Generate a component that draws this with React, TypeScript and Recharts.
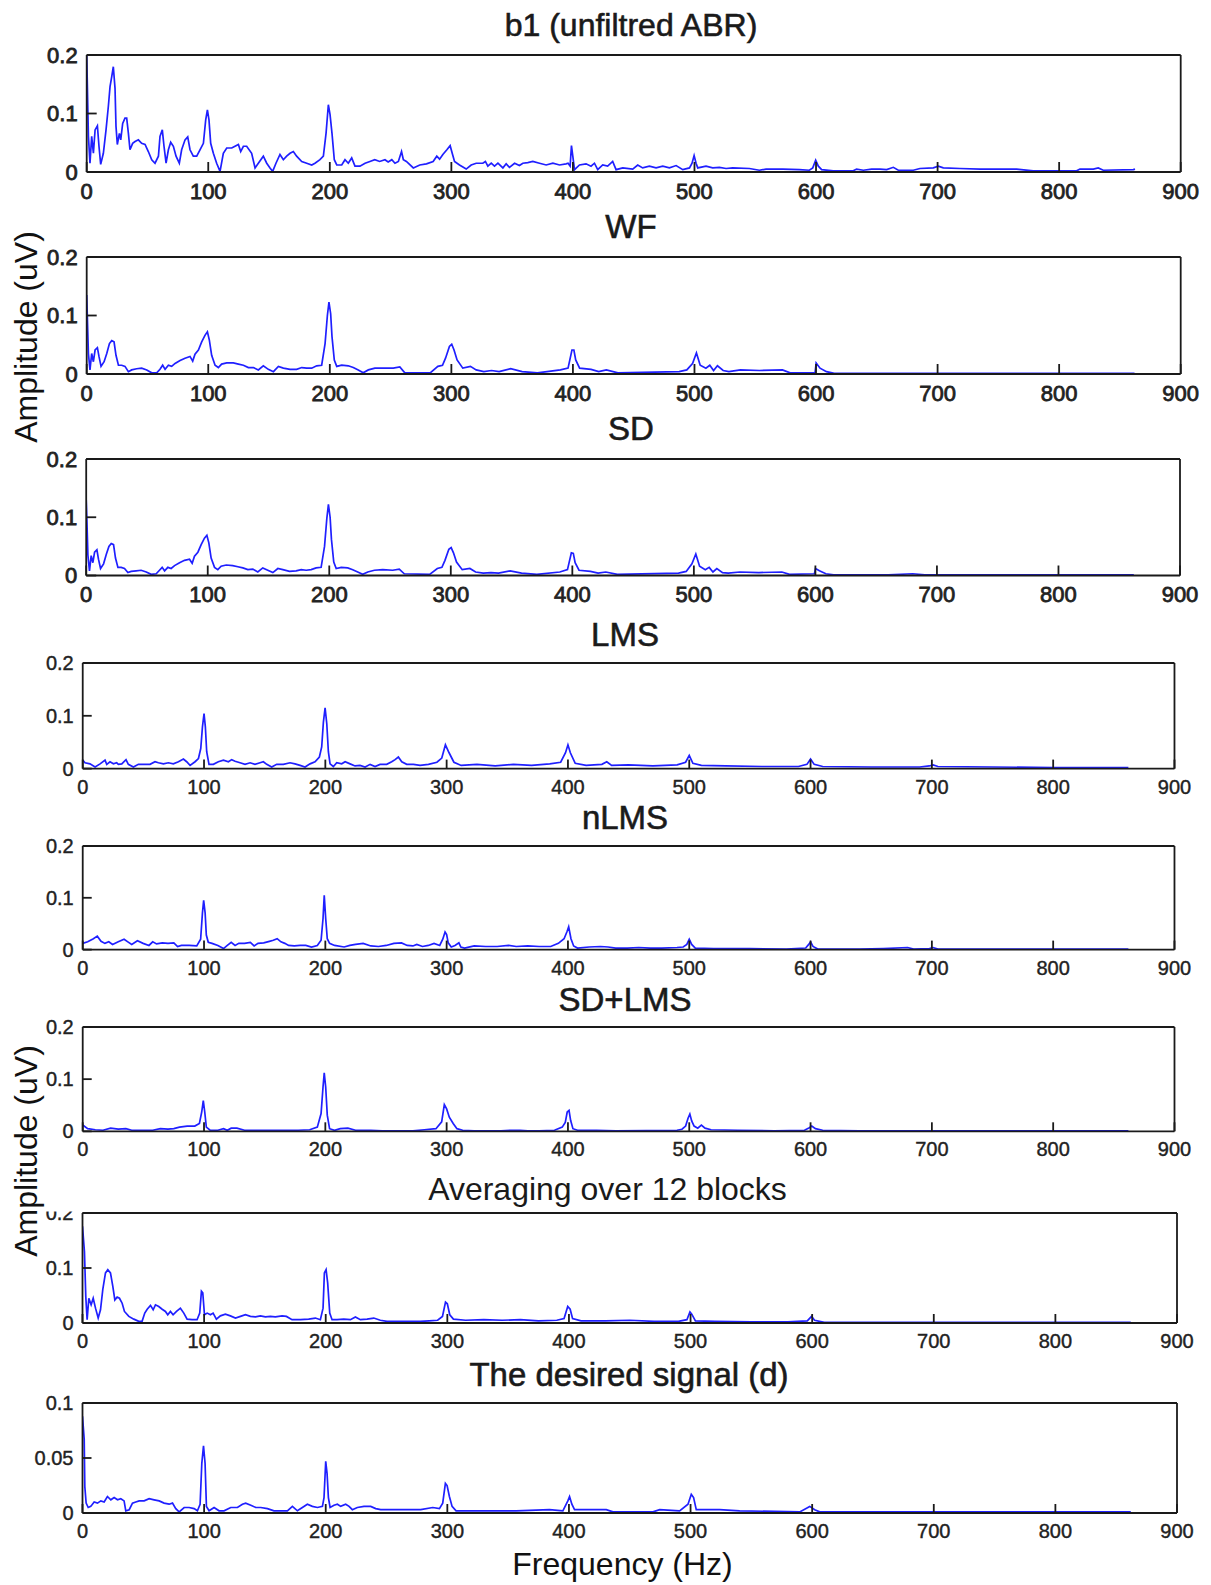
import { LineChart, Line, XAxis, YAxis } from "recharts";

type Pt = [number, number];

// shared axis ticks
const freqTicks = [0, 100, 200, 300, 400, 500, 600, 700, 800, 900];
const ampTicks = [0, 0.1, 0.2];
const desiredTicks = [0, 0.05, 0.1];

// amplitude spectra, [frequency Hz, amplitude uV]
const b1Spectrum: Pt[] = [
  [0, 0.2], [0.5, 0.152], [1.4, 0.061], [2.7, 0.015], [4.1, 0.061], [5.5, 0.032], [6.9, 0.072], [8.8, 0.079],
  [10.1, 0.044], [11.5, 0.013], [13.7, 0.032], [15.9, 0.072], [17.8, 0.112], [19.2, 0.146], [20.6, 0.163],
  [21.9, 0.18], [23.3, 0.143], [24.1, 0.078], [25.2, 0.047], [26.9, 0.066], [28, 0.055], [29.6, 0.083],
  [31.5, 0.092], [32.9, 0.092], [34.3, 0.066], [35.6, 0.038], [37.8, 0.049], [39.8, 0.052], [42.5, 0.055],
  [45.2, 0.049], [48, 0.047], [50.7, 0.035], [53.5, 0.021], [56.2, 0.015], [59, 0.027], [60.3, 0.061],
  [62.2, 0.072], [63.6, 0.044], [65.3, 0.015], [67.2, 0.038], [69.1, 0.051], [71.3, 0.044], [73.5, 0.027],
  [76.2, 0.015], [78.1, 0.038], [80.9, 0.055], [83.1, 0.06], [85, 0.038], [87.7, 0.027], [90.5, 0.027],
  [93.2, 0.038], [96, 0.049], [97.9, 0.089], [99.3, 0.106], [100.6, 0.089], [102, 0.049], [104.2, 0.032],
  [106.9, 0.015], [109.7, 0.001], [112.4, 0.032], [115.2, 0.041], [119.3, 0.041], [122, 0.044], [124.8, 0.047],
  [126.7, 0.035], [128.9, 0.044], [131.6, 0.044], [135.7, 0.032], [138.5, 0.007], [141.2, 0.015], [145.3, 0.027],
  [148.1, 0.015], [150.8, 0.007], [153, 0.001], [155.7, 0.015], [159, 0.03], [161.8, 0.021], [164.5, 0.027],
  [167.3, 0.032], [170, 0.035], [172.7, 0.027], [176.9, 0.018], [181, 0.015], [185.1, 0.012], [187.8, 0.015],
  [191.9, 0.021], [194.7, 0.027], [196.9, 0.066], [198.8, 0.115], [200.2, 0.098], [201.8, 0.066], [203.7, 0.021],
  [205.7, 0.012], [209.8, 0.012], [212.5, 0.021], [215.2, 0.015], [218, 0.024], [220.7, 0.01], [224.8, 0.01],
  [229, 0.015], [233, 0.018], [237, 0.021], [241, 0.018], [245.4, 0.021], [248, 0.017], [251, 0.021],
  [253.6, 0.015], [256.4, 0.018], [259, 0.035], [260.5, 0.021], [263, 0.018], [268.7, 0.007], [274, 0.012],
  [279.5, 0.014], [285, 0.018], [288, 0.027], [290.3, 0.022], [293, 0.03], [296.3, 0.038], [299, 0.045],
  [300.7, 0.032], [302.6, 0.018], [306.7, 0.012], [312.2, 0.005], [316.3, 0.012], [320.4, 0.015], [325.9, 0.015],
  [328, 0.018], [330, 0.01], [332.8, 0.015], [335.5, 0.01], [338.3, 0.015], [342.4, 0.007], [345.1, 0.014],
  [347.8, 0.008], [352, 0.015], [356, 0.011], [358.8, 0.015], [362.9, 0.016], [367, 0.018], [372.5, 0.015],
  [378, 0.012], [383.5, 0.015], [389, 0.012], [394.4, 0.014], [396, 0.015], [397.7, 0.01], [398.8, 0.045],
  [399.9, 0.027], [401.3, 0.004], [405.4, 0.012], [410.8, 0.014], [414.9, 0.01], [417.7, 0.015], [420.4, 0.004],
  [424.5, 0.012], [428.6, 0.01], [432.7, 0.018], [435.5, 0.004], [441, 0.007], [449.2, 0.005], [453.3, 0.012],
  [457.4, 0.007], [462.9, 0.01], [468.4, 0.007], [473.9, 0.01], [479.4, 0.007], [484.9, 0.011], [490.4, 0.004],
  [495.9, 0.007], [498, 0.015], [499.7, 0.028], [501.3, 0.015], [502.7, 0.007], [509.5, 0.01], [515, 0.007],
  [520.5, 0.008], [526, 0.006], [531.4, 0.007], [545.2, 0.006], [553.4, 0.003], [558.9, 0.005], [572.6, 0.005],
  [586.3, 0.004], [594.5, 0.003], [597.3, 0.007], [599.7, 0.02], [601.9, 0.01], [604.6, 0.004], [614.2, 0.002],
  [630.6, 0.002], [633.4, 0.005], [638.9, 0.003], [645.7, 0.005], [652.6, 0.005], [658.1, 0.004], [663.6, 0.008],
  [667.7, 0.003], [680, 0.003], [685.5, 0.006], [696.5, 0.007], [700.6, 0.01], [704.7, 0.007], [718.4, 0.006],
  [734.9, 0.005], [751.3, 0.005], [765, 0.005], [778.7, 0.002], [795.2, 0.002], [814.4, 0.002], [817.1, 0.005],
  [828.1, 0.005], [832.2, 0.007], [836.3, 0.003], [861, 0.004], [862.4, 0.005],
];

const wfSpectrum: Pt[] = [
  [0, 0.135], [0.5, 0.1], [1.4, 0.035], [2.7, 0.007], [4.1, 0.035], [5.5, 0.021], [6.9, 0.041], [8.8, 0.045],
  [10.1, 0.03], [11.8, 0.013], [14.3, 0.021], [16.5, 0.035], [18.7, 0.052], [20.6, 0.057], [22.5, 0.055],
  [24.1, 0.032], [26.1, 0.015], [28.8, 0.015], [31.5, 0.013], [34.3, 0.004], [37, 0.007], [41.1, 0.009],
  [45.2, 0.01], [49.4, 0.007], [53.5, 0.002], [57.6, 0.002], [60.3, 0.008], [62.5, 0.015], [64.5, 0.008],
  [67.2, 0.015], [69.9, 0.013], [72.7, 0.018], [76.8, 0.023], [80.9, 0.027], [85, 0.03], [87.2, 0.022],
  [89.1, 0.034], [91.9, 0.041], [94.6, 0.055], [97.3, 0.066], [99.3, 0.072], [100.9, 0.058], [102.8, 0.032],
  [105.6, 0.015], [108.3, 0.011], [111, 0.017], [115.2, 0.019], [120.6, 0.019], [124.8, 0.017], [128.9, 0.015],
  [133, 0.011], [137.1, 0.011], [141.2, 0.007], [145.3, 0.014], [149.4, 0.008], [153.6, 0.004], [157.7, 0.013],
  [161.8, 0.01], [167.3, 0.008], [172.7, 0.008], [176.9, 0.011], [181, 0.01], [185.1, 0.01], [189.2, 0.014],
  [193.3, 0.015], [196.1, 0.052], [198, 0.1], [199.3, 0.123], [200.7, 0.103], [201.8, 0.064], [203.7, 0.024],
  [205.7, 0.013], [209.8, 0.015], [215.2, 0.014], [219.3, 0.011], [223.4, 0.007], [227.5, 0.002], [231.7, 0.007],
  [237.1, 0.01], [244, 0.01], [252.2, 0.01], [257.6, 0.012], [261.7, 0.002], [282.6, 0.002], [288.9, 0.013],
  [292.7, 0.015], [295.2, 0.027], [298.4, 0.047], [300.3, 0.051], [302.2, 0.041], [304.7, 0.024], [309.4, 0.01],
  [315.7, 0.013], [320.4, 0.007], [326.7, 0.004], [333, 0.006], [339.3, 0.004], [348.8, 0.009], [358.2, 0.004],
  [370.8, 0.002], [389.7, 0.007], [396, 0.01], [399.2, 0.041], [400.8, 0.041], [402.3, 0.024], [405.5, 0.01],
  [414.9, 0.008], [421.2, 0.004], [427.5, 0.007], [437, 0.002], [487.4, 0.004], [493.7, 0.007], [498.4, 0.018],
  [501.6, 0.036], [504.7, 0.015], [509.4, 0.01], [512.6, 0.015], [515.7, 0.006], [518.9, 0.014], [523.6, 0.006],
  [528.3, 0.004], [537.8, 0.007], [553.5, 0.006], [572.4, 0.007], [578.7, 0.002], [599.2, 0.002], [600.1, 0.019],
  [603.3, 0.01], [608.6, 0.004], [615, 0.001], [862, 0.001],
];

const sdSpectrum: Pt[] = [
  [0, 0.13], [0.5, 0.1], [1.4, 0.035], [2.7, 0.008], [4.1, 0.034], [5.5, 0.022], [6.9, 0.04], [8.8, 0.044],
  [10.1, 0.028], [11.8, 0.012], [14.3, 0.02], [16.5, 0.036], [18.7, 0.05], [20.6, 0.055], [22.5, 0.053],
  [24.1, 0.03], [26.1, 0.014], [28.8, 0.014], [31.5, 0.012], [34.3, 0.005], [37, 0.007], [41.1, 0.008],
  [45.2, 0.009], [49.4, 0.006], [53.5, 0.002], [57.6, 0.003], [60.3, 0.009], [62.5, 0.014], [64.5, 0.008],
  [67.2, 0.014], [69.9, 0.012], [72.7, 0.017], [76.8, 0.022], [80.9, 0.026], [85, 0.028], [87.2, 0.021],
  [89.1, 0.033], [91.9, 0.04], [94.6, 0.053], [97.3, 0.064], [99.3, 0.069], [100.9, 0.056], [102.8, 0.03],
  [105.6, 0.014], [108.3, 0.01], [111, 0.016], [115.2, 0.018], [120.6, 0.017], [124.8, 0.015], [128.9, 0.013],
  [133, 0.01], [137.1, 0.011], [141.2, 0.006], [145.3, 0.013], [149.4, 0.009], [153.6, 0.005], [157.7, 0.012],
  [161.8, 0.01], [167.3, 0.007], [172.7, 0.008], [176.9, 0.01], [181, 0.009], [185.1, 0.01], [189.2, 0.013],
  [193.3, 0.014], [196.1, 0.05], [198, 0.098], [199.3, 0.122], [200.7, 0.1], [201.8, 0.062], [203.7, 0.023],
  [205.7, 0.012], [209.8, 0.014], [215.2, 0.013], [219.3, 0.01], [223.4, 0.006], [227.5, 0.002], [231.7, 0.006],
  [237.1, 0.009], [244, 0.01], [252.2, 0.009], [257.6, 0.011], [261.7, 0.003], [282.6, 0.002], [288.9, 0.012],
  [292.7, 0.014], [295.2, 0.026], [298.4, 0.045], [300.3, 0.048], [302.2, 0.039], [304.7, 0.023], [309.4, 0.01],
  [315.7, 0.012], [320.4, 0.006], [326.7, 0.004], [333, 0.005], [339.3, 0.004], [348.8, 0.008], [358.2, 0.004],
  [370.8, 0.002], [389.7, 0.006], [396, 0.01], [399.2, 0.039], [400.8, 0.038], [402.3, 0.022], [405.5, 0.009],
  [414.9, 0.007], [421.2, 0.004], [427.5, 0.006], [437, 0.002], [487.4, 0.004], [493.7, 0.007], [498.4, 0.02],
  [501.6, 0.037], [504.7, 0.016], [509.4, 0.01], [512.6, 0.014], [515.7, 0.006], [518.9, 0.012], [523.6, 0.005],
  [528.3, 0.004], [537.8, 0.006], [553.5, 0.005], [572.4, 0.006], [578.7, 0.002], [599.2, 0.003], [600.1, 0.012],
  [603.3, 0.008], [608.6, 0.003], [615, 0.001], [660, 0.001], [680, 0.003], [690, 0.001], [862, 0.001],
];

const lmsSpectrum: Pt[] = [
  [0, 0.016], [1.9, 0.011], [6, 0.009], [10.2, 0.003], [14.3, 0.009], [18.4, 0.016], [19.8, 0.008], [22.5, 0.013],
  [25.3, 0.009], [28, 0.011], [29.4, 0.008], [32.2, 0.009], [35.7, 0.017], [37.6, 0.008], [41.8, 0.003],
  [45.9, 0.008], [50, 0.008], [55.5, 0.008], [59.6, 0.013], [62.4, 0.011], [66.5, 0.009], [70.6, 0.011],
  [74.7, 0.009], [78.9, 0.013], [83, 0.018], [85.7, 0.013], [88.5, 0.006], [92.6, 0.013], [95.4, 0.019],
  [97.3, 0.038], [98.7, 0.079], [100, 0.104], [101.1, 0.079], [102.2, 0.032], [104.1, 0.008], [107.7, 0.008],
  [111.8, 0.013], [116, 0.016], [120.1, 0.013], [122.8, 0.017], [125.6, 0.014], [129.7, 0.011], [133.8, 0.008],
  [138, 0.011], [142, 0.008], [146.2, 0.011], [148.9, 0.013], [151.7, 0.008], [155.8, 0.003], [159.9, 0.008],
  [165.4, 0.008], [170.9, 0.011], [175, 0.009], [179.2, 0.006], [183.3, 0.003], [187.4, 0.009], [191.5, 0.013],
  [195.1, 0.022], [197, 0.041], [198.4, 0.088], [199.8, 0.115], [201.2, 0.085], [202.5, 0.032], [203.9, 0.009],
  [206.6, 0.004], [209.4, 0.011], [213.5, 0.009], [216.3, 0.013], [220.4, 0.009], [224.5, 0.005], [228.6, 0.006],
  [232.8, 0.003], [236.9, 0.008], [241, 0.004], [245.1, 0.008], [250.6, 0.008], [254.7, 0.013], [257.5, 0.017],
  [260.2, 0.022], [263, 0.013], [267.1, 0.008], [272.6, 0.008], [278.1, 0.006], [285, 0.008], [292, 0.012],
  [296, 0.02], [299, 0.045], [302, 0.03], [306, 0.012], [312, 0.006], [325, 0.008], [340, 0.005], [355, 0.008],
  [370, 0.006], [385, 0.009], [394, 0.012], [398, 0.03], [400, 0.045], [402, 0.03], [406, 0.01], [415, 0.006],
  [428, 0.008], [432, 0.013], [436, 0.006], [450, 0.007], [470, 0.005], [490, 0.007], [497, 0.012], [500, 0.025],
  [503, 0.01], [510, 0.006], [530, 0.005], [560, 0.004], [590, 0.004], [597, 0.008], [600, 0.018], [603, 0.008],
  [610, 0.004], [650, 0.003], [690, 0.003], [698, 0.005], [701, 0.007], [705, 0.004], [750, 0.003], [800, 0.002],
  [862, 0.002],
];

const nlmsSpectrum: Pt[] = [
  [0, 0.012], [4.1, 0.015], [8.8, 0.021], [12, 0.026], [15.1, 0.016], [18.3, 0.012], [21.5, 0.015], [24.6, 0.01],
  [29.3, 0.015], [34.1, 0.02], [37.2, 0.015], [40.4, 0.01], [45.1, 0.017], [49.8, 0.012], [54.6, 0.008],
  [57.7, 0.015], [60.9, 0.011], [65.6, 0.013], [70.3, 0.012], [75.1, 0.013], [78.2, 0.006], [81.4, 0.008],
  [87.7, 0.008], [94, 0.007], [97.2, 0.02], [98.7, 0.071], [99.7, 0.095], [100.9, 0.071], [101.9, 0.028],
  [103.5, 0.014], [106.6, 0.012], [111.4, 0.008], [116.1, 0.002], [119.2, 0.008], [122.4, 0.014], [125.6, 0.008],
  [128.7, 0.012], [133.4, 0.012], [138.2, 0.014], [141.3, 0.007], [144.5, 0.012], [149.2, 0.013], [153.9, 0.016],
  [157.1, 0.018], [160.3, 0.021], [163.4, 0.015], [166.6, 0.012], [169.7, 0.008], [174.4, 0.007], [179.2, 0.008],
  [183.9, 0.008], [188.6, 0.005], [193.4, 0.008], [196.5, 0.018], [198.1, 0.06], [199.1, 0.105], [200.3, 0.06],
  [201.6, 0.021], [203.5, 0.012], [207.6, 0.008], [215.5, 0.005], [220.2, 0.008], [224.9, 0.01], [231.2, 0.012],
  [237.5, 0.007], [243.8, 0.006], [250.2, 0.008], [256.5, 0.012], [262.8, 0.013], [267.5, 0.008], [272.2, 0.007],
  [275.4, 0.01], [280.1, 0.006], [284.9, 0.008], [289.6, 0.012], [294.3, 0.008], [296.8, 0.02], [298.7, 0.034],
  [300, 0.029], [301.3, 0.013], [303.8, 0.005], [306.9, 0.008], [310.1, 0.013], [311.7, 0.005], [314.8, 0.003],
  [322.7, 0.007], [332.2, 0.006], [341.6, 0.006], [351.1, 0.008], [357.4, 0.006], [366.9, 0.007], [376.3, 0.006],
  [385.8, 0.006], [392.1, 0.012], [396.8, 0.021], [399.1, 0.034], [400.6, 0.044], [402.5, 0.021], [404.7, 0.007],
  [407.9, 0.003], [417.4, 0.005], [426.8, 0.006], [433.1, 0.005], [439.4, 0.003], [448.9, 0.003], [458.4, 0.004],
  [467.8, 0.003], [477.3, 0.003], [489.9, 0.004], [495, 0.005], [498, 0.01], [500, 0.02], [502, 0.01], [505, 0.003],
  [520, 0.002], [550, 0.002], [580, 0.001], [596, 0.003], [598.5, 0.01], [600, 0.015], [602, 0.006], [606, 0.001],
  [640, 0.001], [660, 0.002], [680, 0.004], [685, 0.001], [698, 0.002], [701, 0.004], [705, 0.001], [750, 0.001],
  [862, 0.001],
];

const sdLmsSpectrum: Pt[] = [
  [0, 0.012], [4.1, 0.005], [10.4, 0.003], [16.7, 0.002], [23, 0.006], [29.3, 0.004], [35.6, 0.005], [40.4, 0.002],
  [48.3, 0.002], [57.7, 0.002], [64, 0.005], [70.3, 0.004], [75.1, 0.005], [79.8, 0.008], [86.1, 0.01],
  [92.4, 0.01], [96.2, 0.015], [98.1, 0.037], [99.4, 0.059], [100.6, 0.037], [101.9, 0.008], [105, 0.002],
  [111.4, 0.002], [116.1, 0.005], [119.2, 0.002], [122.4, 0.006], [127.1, 0.006], [133.4, 0.002], [142.9, 0.002],
  [155.5, 0.002], [168.1, 0.002], [177.6, 0.002], [187.1, 0.003], [193.4, 0.008], [196.5, 0.034], [198.1, 0.085],
  [199.1, 0.112], [200.3, 0.085], [201.6, 0.031], [203.5, 0.005], [207.6, 0.002], [212.3, 0.005], [218.6, 0.006],
  [224.9, 0.002], [237.5, 0.002], [247, 0.001], [259.6, 0.001], [272.2, 0.001], [281.7, 0.003], [291.2, 0.005],
  [295.9, 0.018], [298.1, 0.051], [300, 0.043], [302.2, 0.027], [305.4, 0.015], [308.5, 0.005], [313.2, 0.002],
  [322.7, 0.001], [344.8, 0.001], [354.3, 0.002], [360.6, 0.002], [366.9, 0.001], [376.3, 0.001], [388.9, 0.002],
  [395.3, 0.008], [397.8, 0.017], [399.4, 0.037], [400.9, 0.04], [402.2, 0.021], [404.1, 0.005], [407.9, 0.002],
  [423.7, 0.002], [439.4, 0.001], [489.9, 0.002], [494, 0.004], [497, 0.01], [499, 0.025], [500.5, 0.033],
  [502, 0.02], [504, 0.01], [507, 0.006], [510, 0.012], [513, 0.006], [518, 0.003], [540, 0.002], [570, 0.001],
  [595, 0.002], [599, 0.007], [601, 0.01], [604, 0.005], [610, 0.002], [640, 0.001], [700, 0.001], [862, 0.001],
];

const avgSpectrum: Pt[] = [
  [0, 0.176], [1.6, 0.13], [2.7, 0.048], [3.8, 0.006], [5.2, 0.045], [7.1, 0.033], [8.8, 0.045], [10.7, 0.027],
  [12.9, 0.009], [14.8, 0.024], [16.7, 0.061], [18.9, 0.091], [20.8, 0.097], [23, 0.091], [24.9, 0.067],
  [26.6, 0.042], [28.5, 0.047], [30.4, 0.045], [32.6, 0.036], [34.5, 0.021], [38.1, 0.012], [42.2, 0.007],
  [46.3, 0.003], [49, 0.003], [51.2, 0.018], [53.2, 0.025], [55.9, 0.032], [58.1, 0.024], [60, 0.033],
  [62.7, 0.03], [65.5, 0.025], [68.2, 0.021], [70.1, 0.015], [72.3, 0.021], [74.5, 0.015], [77.3, 0.021],
  [80.5, 0.027], [83.3, 0.018], [86, 0.007], [90.1, 0.006], [94.2, 0.006], [96.4, 0.018], [97.8, 0.058],
  [98.9, 0.055], [100.3, 0.015], [102.5, 0.018], [105.2, 0.015], [107.4, 0.018], [110.1, 0.007], [113.4, 0.013],
  [117.5, 0.016], [121.6, 0.013], [125.8, 0.009], [129.9, 0.012], [134, 0.015], [138.1, 0.012], [142.2, 0.011],
  [146.3, 0.013], [150.4, 0.011], [154.5, 0.012], [158.6, 0.011], [164.1, 0.013], [167.7, 0.012], [172.3, 0.006],
  [179.2, 0.006], [186, 0.007], [191.5, 0.009], [195.6, 0.006], [197.8, 0.027], [198.9, 0.091], [200.3, 0.097],
  [201.6, 0.073], [203.3, 0.018], [205.2, 0.006], [209.3, 0.006], [214.8, 0.007], [220.3, 0.006], [224.4, 0.011],
  [228.5, 0.006], [234, 0.007], [239.5, 0.009], [244.9, 0.005], [250.4, 0.003], [255.9, 0.003], [261.4, 0.003],
  [266.8, 0.003], [277.8, 0.003], [285, 0.004], [292, 0.005], [296, 0.012], [298.5, 0.038], [300, 0.035],
  [302, 0.015], [305, 0.007], [315, 0.005], [330, 0.006], [345, 0.005], [360, 0.006], [375, 0.004], [390, 0.005],
  [396, 0.008], [399, 0.03], [401, 0.025], [403, 0.008], [410, 0.004], [430, 0.004], [450, 0.005], [470, 0.003],
  [490, 0.003], [497, 0.006], [499.5, 0.02], [501, 0.016], [504, 0.004], [520, 0.003], [550, 0.002], [580, 0.002],
  [596, 0.004], [599.5, 0.012], [602, 0.005], [610, 0.001], [650, 0.001], [700, 0.001], [750, 0.001], [862, 0.001],
];

const desiredSpectrum: Pt[] = [
  [0, 0.088], [1.4, 0.067], [1.9, 0.024], [3, 0.009], [4.7, 0.005], [6.8, 0.006], [9.6, 0.01], [12.3, 0.009],
  [15.1, 0.011], [17.8, 0.01], [20.5, 0.015], [23.3, 0.012], [26, 0.014], [28.8, 0.012], [31.5, 0.013],
  [34.2, 0.011], [35.6, 0.002], [38.4, 0.003], [41.1, 0.009], [43.8, 0.01], [46.6, 0.011], [50.7, 0.011],
  [54.8, 0.013], [58.9, 0.012], [63, 0.011], [67.1, 0.009], [71.2, 0.008], [74, 0.009], [76.7, 0.004],
  [79.5, 0.001], [83.6, 0.005], [87.7, 0.005], [91.8, 0.004], [94.5, 0.002], [96.7, 0.008], [98.1, 0.045],
  [99.5, 0.061], [100.8, 0.045], [101.9, 0.006], [104.1, 0.002], [108.2, 0.005], [112.3, 0.002], [116.4, 0.002],
  [121.9, 0.005], [127.4, 0.005], [131.5, 0.008], [134.2, 0.009], [138.4, 0.007], [142.5, 0.005], [146.6, 0.005],
  [152.1, 0.004], [157.5, 0.002], [168.5, 0.002], [172.6, 0.006], [176.7, 0.002], [180.8, 0.005], [184.9, 0.008],
  [189, 0.006], [193.2, 0.005], [197.3, 0.006], [198.6, 0.014], [200, 0.047], [201.1, 0.036], [202.2, 0.014],
  [203.6, 0.005], [206.8, 0.007], [209.6, 0.008], [212.3, 0.006], [216.4, 0.008], [219.2, 0.006], [221.9, 0.003],
  [226, 0.005], [231.5, 0.006], [237, 0.006], [241.1, 0.004], [245.2, 0.003], [261.6, 0.003], [278.1, 0.003],
  [288, 0.005], [293.5, 0.004], [296.2, 0.009], [298.4, 0.027], [299.8, 0.025], [301.7, 0.015], [303.9, 0.006],
  [307.2, 0.002], [356.6, 0.002], [384, 0.003], [395, 0.002], [399.1, 0.011], [400.5, 0.015], [402.4, 0.008],
  [404.6, 0.003], [430.7, 0.003], [436.2, 0.001], [469.1, 0.001], [474.6, 0.003], [491, 0.002], [497.9, 0.008],
  [500.6, 0.017], [502.5, 0.014], [504.7, 0.003], [523.9, 0.003], [540.4, 0.002], [589.8, 0.001], [598, 0.006],
  [602.1, 0.003], [606.2, 0.001], [700, 0.001], [862, 0.001],
];

const FONT = "'Liberation Sans', Arial, Helvetica, sans-serif";
const PAGE_W = 1211;
const PAGE_H = 1585;

type Box = { left: number; right: number; top: number; bottom: number };

type PanelProps = {
  points: Pt[];
  box: Box;
  yTicks: number[];
  yMax: number;
  tickFont: number;
  tickHeavy: number;
  tickLen: number;
};

function SpectrumPanel({ points, box, yTicks, yMax, tickFont, tickHeavy, tickLen }: PanelProps) {
  const rows = points.map(([f, a]) => ({ f, a }));
  const padTop = 14;
  const padBottom = 42;
  const h = box.bottom - box.top + padTop + padBottom;
  const axisStroke = { stroke: "#1a1a1a", strokeWidth: 1.8 };
  // a thin outline thickens the regular face a little
  const tickStyle = {
    fontFamily: FONT,
    fontSize: tickFont,
    fill: "#222",
    stroke: "#222",
    strokeWidth: tickHeavy,
  };

  return (
    <div style={{ position: "absolute", left: 0, top: box.top - padTop }}>
      <LineChart
        width={PAGE_W}
        height={h}
        margin={{ top: padTop - 1, right: PAGE_W - box.right - 1, bottom: padBottom - 1, left: box.left - 1 }}
      >
        <XAxis
          xAxisId="b"
          dataKey="f"
          type="number"
          domain={[0, 900]}
          ticks={freqTicks}
          interval={0}
          height={1}
          allowDataOverflow
          tickSize={-tickLen}
          tickMargin={tickLen + 11}
          tick={tickStyle}
          axisLine={axisStroke}
          tickLine={axisStroke}
        />
        <XAxis
          xAxisId="t"
          orientation="top"
          dataKey="f"
          type="number"
          domain={[0, 900]}
          ticks={freqTicks}
          interval={0}
          height={1}
          allowDataOverflow
          tickSize={-tickLen}
          tick={false}
          axisLine={axisStroke}
          tickLine={axisStroke}
        />
        <YAxis
          yAxisId="l"
          type="number"
          domain={[0, yMax]}
          ticks={yTicks}
          interval={0}
          width={1}
          allowDataOverflow
          tickSize={-tickLen}
          tickMargin={tickLen + 9}
          tick={tickStyle}
          axisLine={axisStroke}
          tickLine={axisStroke}
        />
        <YAxis
          yAxisId="r"
          orientation="right"
          type="number"
          domain={[0, yMax]}
          ticks={yTicks}
          interval={0}
          width={1}
          allowDataOverflow
          tickSize={-tickLen}
          tick={false}
          axisLine={axisStroke}
          tickLine={axisStroke}
        />
        <Line
          xAxisId="b"
          yAxisId="l"
          data={rows}
          dataKey="a"
          type="linear"
          stroke="#1f1fff"
          strokeWidth={1.7}
          dot={false}
          activeDot={false}
          isAnimationActive={false}
        />
      </LineChart>
    </div>
  );
}

const panels = [
  { key: "b1", points: b1Spectrum, box: { left: 86.7, right: 1180.7, top: 55, bottom: 172 }, yTicks: ampTicks, yMax: 0.2, tickFont: 22, tickHeavy: 0.8, tickLen: 10 },
  { key: "wf", points: wfSpectrum, box: { left: 86.7, right: 1180.7, top: 257, bottom: 374 }, yTicks: ampTicks, yMax: 0.2, tickFont: 22, tickHeavy: 0.8, tickLen: 10 },
  { key: "sd", points: sdSpectrum, box: { left: 86.2, right: 1180, top: 458.5, bottom: 575 }, yTicks: ampTicks, yMax: 0.2, tickFont: 22, tickHeavy: 0.8, tickLen: 10 },
  { key: "lms", points: lmsSpectrum, box: { left: 82.7, right: 1174.5, top: 662.7, bottom: 768.3 }, yTicks: ampTicks, yMax: 0.2, tickFont: 20, tickHeavy: 0.4, tickLen: 9 },
  { key: "nlms", points: nlmsSpectrum, box: { left: 82.7, right: 1174.5, top: 845.7, bottom: 949.3 }, yTicks: ampTicks, yMax: 0.2, tickFont: 20, tickHeavy: 0.4, tickLen: 9 },
  { key: "sdlms", points: sdLmsSpectrum, box: { left: 82.7, right: 1174.5, top: 1026.7, bottom: 1131 }, yTicks: ampTicks, yMax: 0.2, tickFont: 20, tickHeavy: 0.4, tickLen: 9 },
  { key: "avg", points: avgSpectrum, box: { left: 82.5, right: 1177, top: 1213, bottom: 1323 }, yTicks: ampTicks, yMax: 0.2, tickFont: 20, tickHeavy: 0.4, tickLen: 9 },
  { key: "d", points: desiredSpectrum, box: { left: 82.5, right: 1177, top: 1403, bottom: 1513 }, yTicks: desiredTicks, yMax: 0.1, tickFont: 20, tickHeavy: 0.4, tickLen: 9 },
];

const titles = [
  { text: "b1 (unfiltred ABR)", x: 631, y: 36, size: 32, heavy: 0.6 },
  { text: "WF", x: 631, y: 237.5, size: 33, heavy: 0.6 },
  { text: "SD", x: 631, y: 440, size: 33, heavy: 0.6 },
  { text: "LMS", x: 625, y: 646, size: 33, heavy: 0.6 },
  { text: "nLMS", x: 625, y: 829, size: 33, heavy: 0.6 },
  { text: "SD+LMS", x: 625, y: 1011, size: 33, heavy: 0.6 },
  { text: "Averaging over 12 blocks", x: 607.5, y: 1200, size: 32, heavy: 0 },
  { text: "The desired signal (d)", x: 629, y: 1386, size: 33, heavy: 0.6 },
];

export default function App() {
  return (
    <div style={{ position: "absolute", left: 0, top: 0, width: PAGE_W, height: PAGE_H, background: "#fff" }}>
      {panels.map(({ key, ...p }) => (
        <SpectrumPanel key={key} {...p} />
      ))}
      <svg
        width={PAGE_W}
        height={PAGE_H}
        style={{ position: "absolute", left: 0, top: 0, pointerEvents: "none" }}
        fontFamily={FONT}
      >
        {/* top of the 0.2 label on the averaging panel is cut off */}
        <rect x={42} y={1196} width={38} height={15.5} fill="#fff" />
        {titles.map((t) => (
          <text
            key={t.text}
            x={t.x}
            y={t.y}
            textAnchor="middle"
            fontSize={t.size}
            fill="#1a1a1a"
            stroke="#1a1a1a"
            strokeWidth={t.heavy}
          >
            {t.text}
          </text>
        ))}
        <text x={622.5} y={1575} textAnchor="middle" fontSize={32} fill="#111">
          Frequency (Hz)
        </text>
        <text x={37} y={337} textAnchor="middle" fontSize={32} fill="#111" transform="rotate(-90 37 337)">
          Amplitude (uV)
        </text>
        <text x={37} y={1151} textAnchor="middle" fontSize={32} fill="#111" transform="rotate(-90 37 1151)">
          Amplitude (uV)
        </text>
      </svg>
    </div>
  );
}
